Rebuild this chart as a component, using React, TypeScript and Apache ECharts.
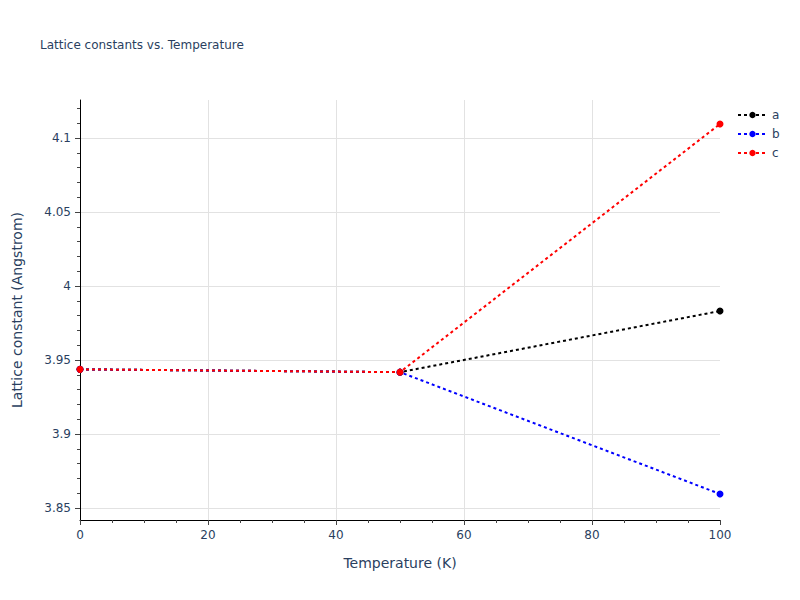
import React, { useEffect, useRef } from "react";
import * as echarts from "echarts";

const temperatures = [0, 50, 100];
const aValues = [3.9437, 3.9418, 3.9831];
const bValues = [3.9437, 3.9418, 3.8595];
const cValues = [3.9437, 3.9418, 4.1095];

const seriesNames = ["a", "b", "c"];
const seriesColors = ["#000000", "#0000ff", "#ff0000"];

const yMajorTicks = [3.85, 3.9, 3.95, 4, 4.05, 4.1];
const yMinorTicks = [
  3.85, 3.86, 3.87, 3.88, 3.89, 3.9, 3.91, 3.92, 3.93, 3.94, 3.95, 3.96, 3.97, 3.98, 3.99,
  4.0, 4.01, 4.02, 4.03, 4.04, 4.05, 4.06, 4.07, 4.08, 4.09, 4.1, 4.11, 4.12,
];
const xGridValues = [20, 40, 60, 80];

const Y_MIN = 3.8419;
const Y_MAX = 4.1257;

const FONT = '"DejaVu Sans", Verdana, sans-serif';
const TEXT = "#2a3f5f";

export default function App() {
  const ref = useRef<HTMLDivElement>(null);

  useEffect(() => {
    if (!ref.current) return;
    const chart = echarts.init(ref.current, undefined, { renderer: "svg" });
    const valueSets = [aValues, bValues, cValues];
    chart.setOption({
      animation: false,
      textStyle: { fontFamily: FONT },
      title: {
        text: "Lattice constants vs. Temperature",
        left: 40,
        top: 39,
        padding: 0,
        textStyle: { fontFamily: FONT, fontSize: 12, fontWeight: "normal", color: TEXT },
      },
      legend: {
        orient: "vertical",
        left: 737,
        top: 108,
        padding: 0,
        itemWidth: 29,
        itemHeight: 8,
        itemGap: 5,
        textStyle: { fontFamily: FONT, fontSize: 12, color: TEXT, lineHeight: 14 },
        data: seriesNames,
      },
      grid: { left: 80, right: 80, top: 100, bottom: 80 },
      xAxis: [
        {
          type: "value",
          min: 0,
          max: 100,
          interval: 20,
          position: "bottom",
          name: "Temperature (K)",
          nameLocation: "middle",
          nameGap: 36,
          nameTextStyle: { fontFamily: FONT, fontSize: 14, color: TEXT },
          axisLine: { show: true, lineStyle: { color: "#000000", width: 1 } },
          axisTick: { show: true, length: 5, lineStyle: { color: "#444444" } },
          minorTick: { show: true, splitNumber: 4, length: 3, lineStyle: { color: "#444444" } },
          axisLabel: { fontFamily: FONT, fontSize: 12, color: TEXT, margin: 9 },
          splitLine: { show: false },
        },
        {
          type: "value",
          min: 0,
          max: 100,
          position: "bottom",
          axisLine: { show: false },
          axisTick: { show: false, customValues: xGridValues },
          axisLabel: { show: false },
          splitLine: { show: true, lineStyle: { color: "#e2e2e2", width: 1 } },
        },
      ],
      yAxis: [
        {
          type: "value",
          min: Y_MIN,
          max: Y_MAX,
          position: "left",
          name: "Lattice constant (Angstrom)",
          nameLocation: "middle",
          nameGap: 56,
          nameTextStyle: { fontFamily: FONT, fontSize: 14, color: TEXT },
          axisLine: { show: true, lineStyle: { color: "#000000", width: 1 } },
          axisTick: { show: true, length: 5, customValues: yMajorTicks, lineStyle: { color: "#444444" } },
          axisLabel: { fontFamily: FONT, fontSize: 12, color: TEXT, margin: 9, customValues: yMajorTicks },
          splitLine: { show: true, lineStyle: { color: "#e2e2e2", width: 1 } },
        },
        {
          type: "value",
          min: Y_MIN,
          max: Y_MAX,
          position: "left",
          offset: 0,
          axisLine: { show: false },
          axisTick: { show: true, length: 3, customValues: yMinorTicks, lineStyle: { color: "#444444" } },
          axisLabel: { show: false },
          splitLine: { show: false },
        },
      ],
      series: seriesNames.map((name, i) => ({
        name,
        type: "line",
        xAxisIndex: 0,
        yAxisIndex: 0,
        data: temperatures.map((t, j) => [t, valueSets[i][j]]),
        symbol: "circle",
        symbolSize: 7,
        showSymbol: true,
        color: seriesColors[i],
        itemStyle: { color: seriesColors[i] },
        lineStyle: { color: seriesColors[i], width: 2, type: [3, 3] },
      })),
    });
    return () => chart.dispose();
  }, []);

  return <div ref={ref} style={{ width: 800, height: 600, position: "absolute", left: 0, top: 0 }} />;
}
